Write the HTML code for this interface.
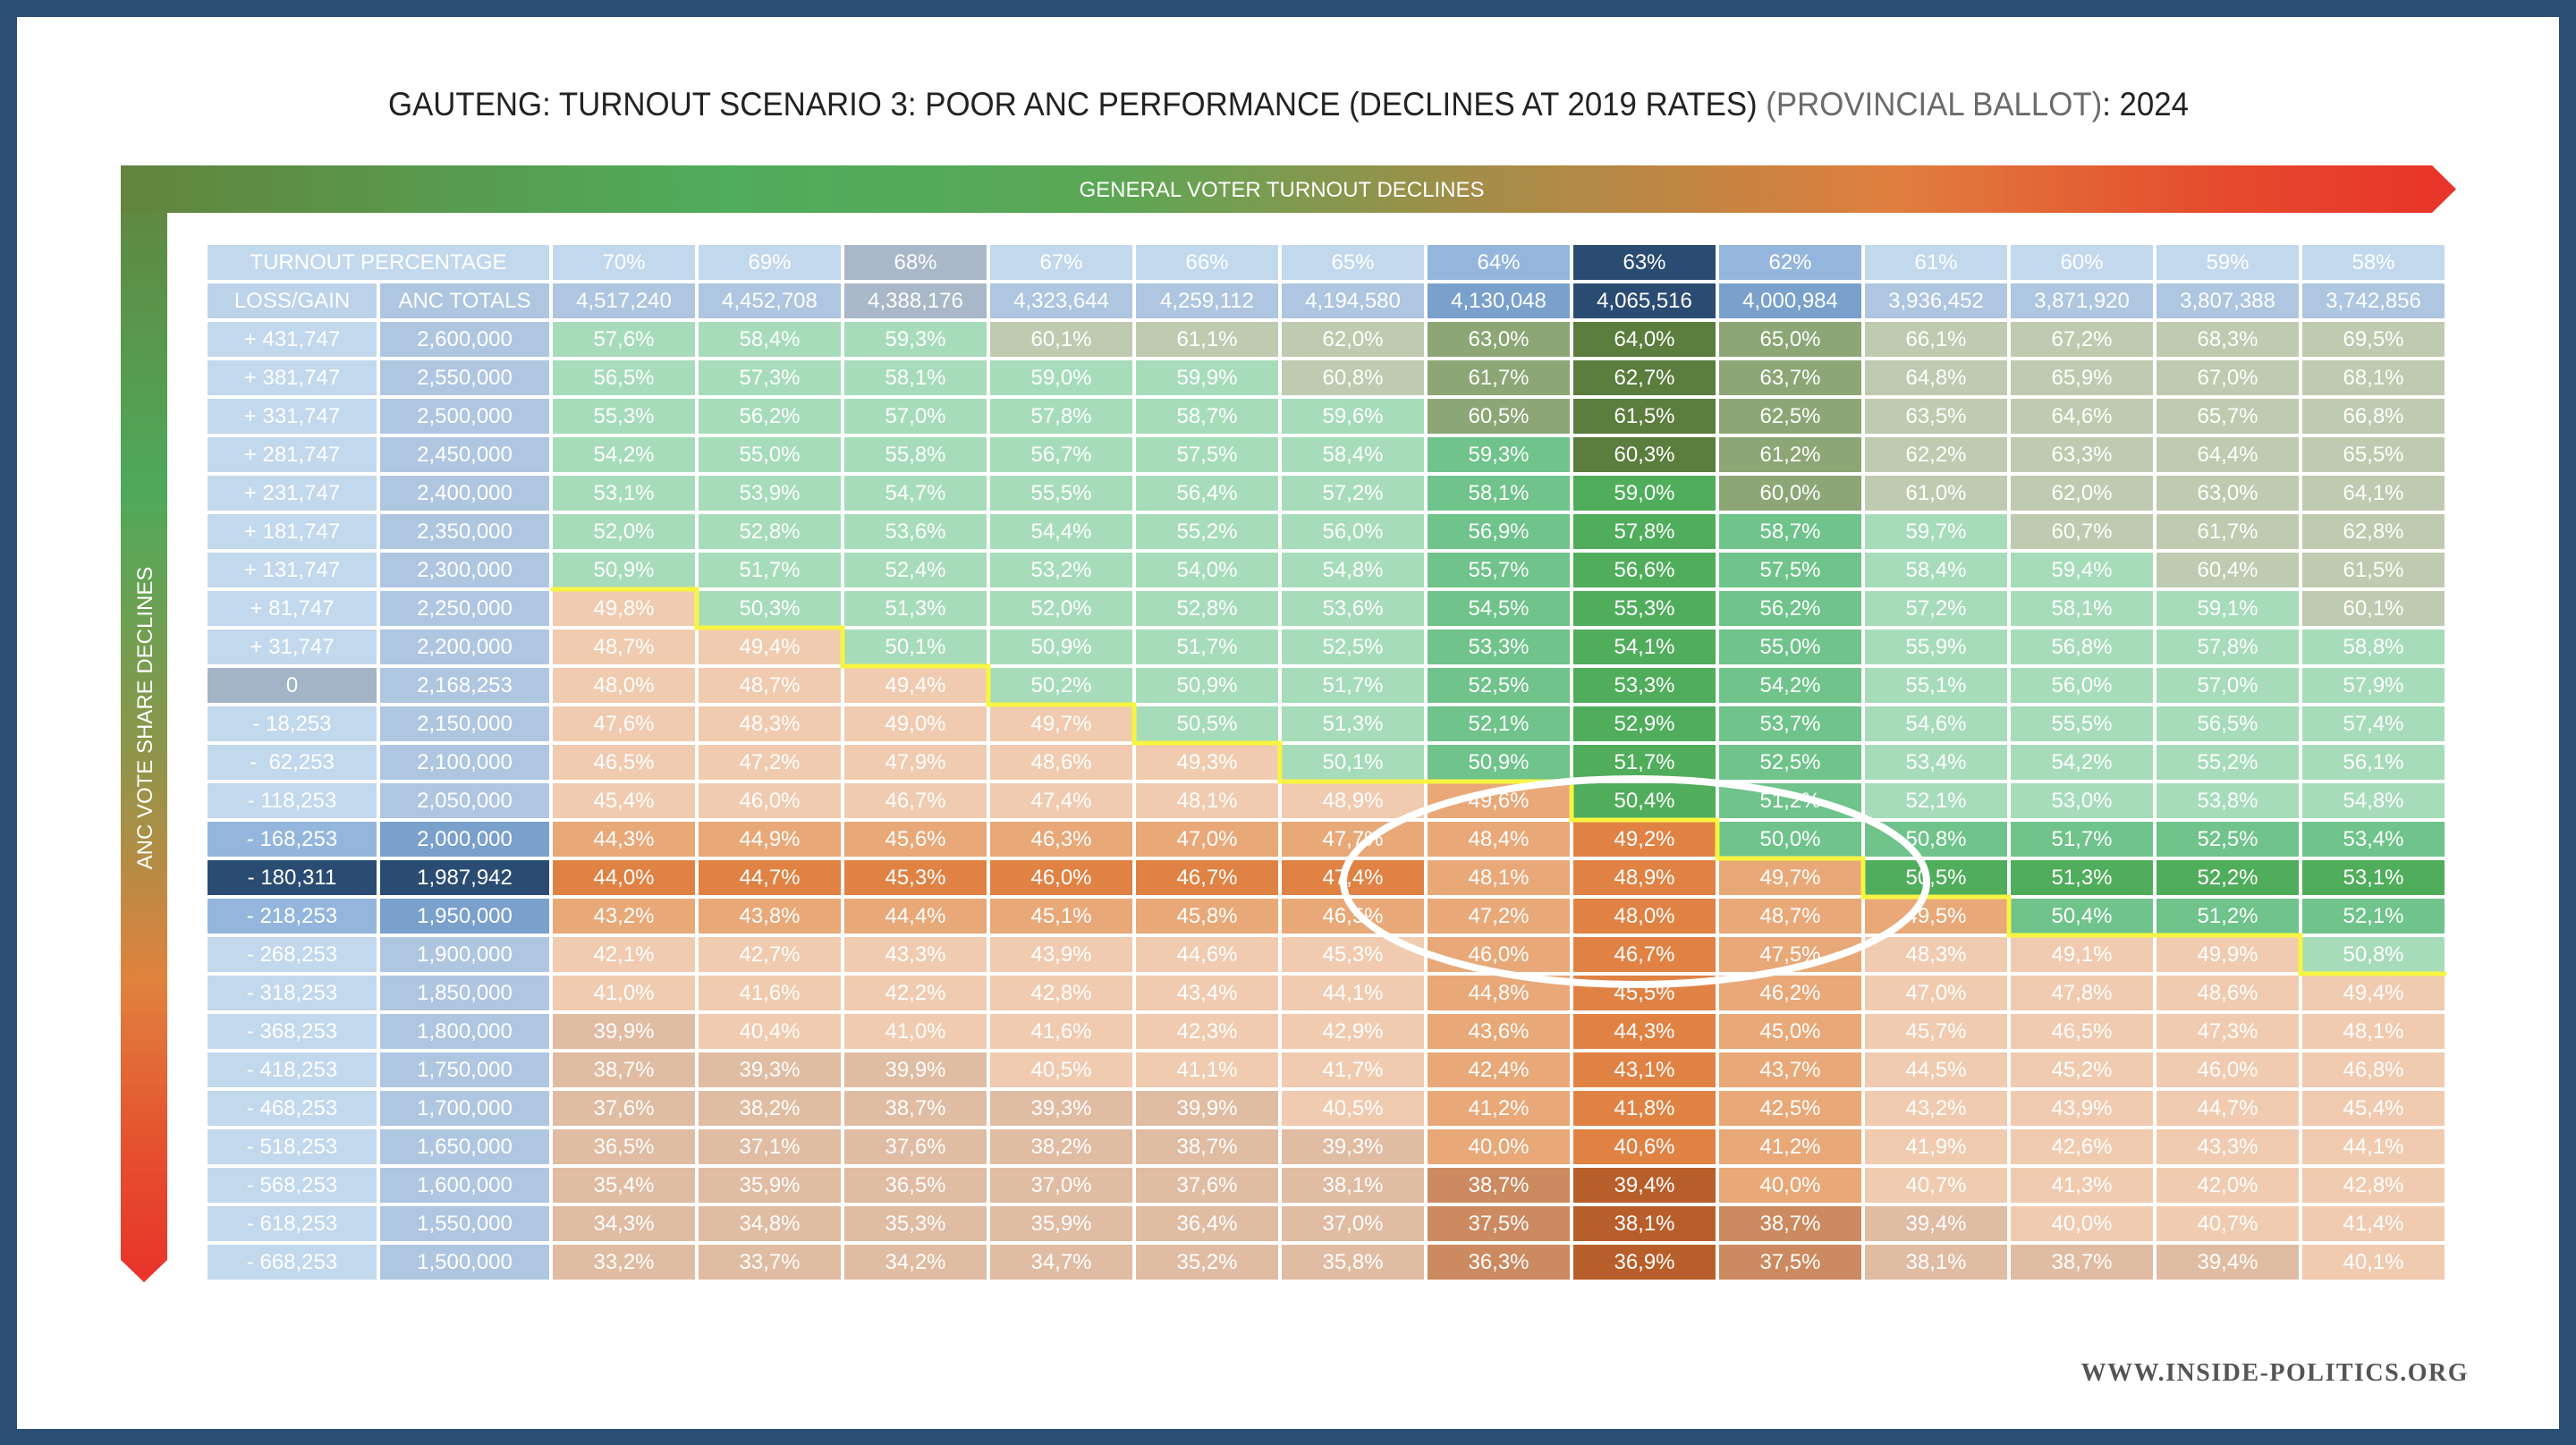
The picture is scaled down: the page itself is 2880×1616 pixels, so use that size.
<!DOCTYPE html>
<html><head><meta charset="utf-8">
<style>
html,body{margin:0;padding:0}
body{width:2880px;height:1616px;background:#2c4f76;position:relative;overflow:hidden;font-family:"Liberation Sans Narrow","Liberation Sans",sans-serif}
#inner{position:absolute;left:19px;top:19px;width:2842px;height:1579px;background:#fff}
svg.ov{position:absolute;left:0;top:0}
#grid{position:absolute;left:230px;top:272px;display:grid;grid-template-columns:193px 193px repeat(13,163px);grid-template-rows:repeat(27,43px)}
.r{display:contents}
.r>div{box-sizing:border-box;border:2px solid #fff;color:#fff;font-size:24px;display:flex;align-items:center;justify-content:center;white-space:nowrap}
.h1>div{background:#c2d8ec}
.h1>div.span{grid-column:span 2}
.h2>div{background:#aec6e0}
.h2>div:nth-child(1){background:#bcd3ea}
.h1>div:nth-child(4),.h2>div:nth-child(5){background:#a8b8c8}
.h1>div:nth-child(8),.h1>div:nth-child(10){background:#94b6dc}
.h2>div:nth-child(9),.h2>div:nth-child(11){background:#7aa0cc}
.h1>div:nth-child(9),.h2>div:nth-child(10){background:#2b4c72}
.d>div:nth-child(1){background:#c2d8ec}
.d>div:nth-child(2){background:#afc6e0}
.d.z>div:nth-child(1){background:#a3b4c6}
.d.md>div:nth-child(1){background:#94b6dc}
.d.md>div:nth-child(2){background:#7aa0cc}
.d.dk>div:nth-child(1),.d.dk>div:nth-child(2){background:#2b4c72}
.G{background:#a7dcbb}.O{background:#bfcbb0}.R{background:#f0cbb0}.T{background:#e0bca3}
.md .G,.d>div:nth-child(9).G,.d>div:nth-child(11).G{background:#6fc38b}
.md .O,.d>div:nth-child(9).O,.d>div:nth-child(11).O{background:#8ca676}
.md .R,.d>div:nth-child(9).R,.d>div:nth-child(11).R{background:#e8a878}
.md .T,.d>div:nth-child(9).T,.d>div:nth-child(11).T{background:#cc8a60}
.dk .G,.d>div:nth-child(10).G{background:#50ad5c}
.dk .O,.d>div:nth-child(10).O{background:#5b7d3d}
.dk .R,.d>div:nth-child(10).R{background:#e08244}
.dk .T,.d>div:nth-child(10).T{background:#b85e2a}
#foot{position:absolute;right:120px;top:1520px;font-family:"Liberation Serif",serif;font-size:28px;color:#555;letter-spacing:1.5px;font-weight:bold}
</style></head><body>
<div id="inner"></div>
<svg class="ov" width="2880" height="1616" xmlns="http://www.w3.org/2000/svg">
<defs>
<linearGradient id="gh" x1="135" y1="0" x2="2746" y2="0" gradientUnits="userSpaceOnUse">
<stop offset="0" stop-color="#62843e"/><stop offset="0.26" stop-color="#4fad5b"/><stop offset="0.42" stop-color="#5aa756"/><stop offset="0.58" stop-color="#a38d48"/><stop offset="0.76" stop-color="#e07e3e"/><stop offset="0.9" stop-color="#e54b2d"/><stop offset="1" stop-color="#e8332a"/>
</linearGradient>
<linearGradient id="gv" x1="0" y1="185" x2="0" y2="1434" gradientUnits="userSpaceOnUse">
<stop offset="0" stop-color="#62843e"/><stop offset="0.29" stop-color="#4fa95a"/><stop offset="0.53" stop-color="#8e954a"/><stop offset="0.73" stop-color="#e0823e"/><stop offset="0.88" stop-color="#e5502e"/><stop offset="1" stop-color="#e8332a"/>
</linearGradient>
</defs>
<polygon points="135,185 187,185 187,1409 161,1434 135,1409" fill="url(#gv)"/>
<polygon points="135,185 2719,185 2746,211.5 2719,238 135,238" fill="url(#gh)"/>
<text x="1433" y="220" fill="#fff" font-family="Liberation Sans Narrow, Liberation Sans, sans-serif" font-size="24" text-anchor="middle">GENERAL VOTER TURNOUT DECLINES</text>
<text transform="translate(170,803) rotate(-90)" fill="#fff" font-family="Liberation Sans, sans-serif" font-size="24" text-anchor="middle">ANC VOTE SHARE DECLINES</text>
<text x="434" y="129" font-family="Liberation Sans Narrow, Liberation Sans, sans-serif" font-size="37" fill="#222" textLength="2013" lengthAdjust="spacingAndGlyphs">GAUTENG: TURNOUT SCENARIO 3: POOR ANC PERFORMANCE (DECLINES AT 2019 RATES) <tspan fill="#6b6b6b">(PROVINCIAL BALLOT)</tspan>: 2024</text>
</svg>
<div id="grid">
<div class="r h1"><div class="span">TURNOUT PERCENTAGE</div><div>70%</div><div>69%</div><div>68%</div><div>67%</div><div>66%</div><div>65%</div><div>64%</div><div>63%</div><div>62%</div><div>61%</div><div>60%</div><div>59%</div><div>58%</div></div>
<div class="r h2"><div>LOSS/GAIN</div><div>ANC TOTALS</div><div>4,517,240</div><div>4,452,708</div><div>4,388,176</div><div>4,323,644</div><div>4,259,112</div><div>4,194,580</div><div>4,130,048</div><div>4,065,516</div><div>4,000,984</div><div>3,936,452</div><div>3,871,920</div><div>3,807,388</div><div>3,742,856</div></div>
<div class="r d"><div>+ 431,747</div><div>2,600,000</div><div class="G">57,6%</div><div class="G">58,4%</div><div class="G">59,3%</div><div class="O">60,1%</div><div class="O">61,1%</div><div class="O">62,0%</div><div class="O">63,0%</div><div class="O">64,0%</div><div class="O">65,0%</div><div class="O">66,1%</div><div class="O">67,2%</div><div class="O">68,3%</div><div class="O">69,5%</div></div>
<div class="r d"><div>+ 381,747</div><div>2,550,000</div><div class="G">56,5%</div><div class="G">57,3%</div><div class="G">58,1%</div><div class="G">59,0%</div><div class="G">59,9%</div><div class="O">60,8%</div><div class="O">61,7%</div><div class="O">62,7%</div><div class="O">63,7%</div><div class="O">64,8%</div><div class="O">65,9%</div><div class="O">67,0%</div><div class="O">68,1%</div></div>
<div class="r d"><div>+ 331,747</div><div>2,500,000</div><div class="G">55,3%</div><div class="G">56,2%</div><div class="G">57,0%</div><div class="G">57,8%</div><div class="G">58,7%</div><div class="G">59,6%</div><div class="O">60,5%</div><div class="O">61,5%</div><div class="O">62,5%</div><div class="O">63,5%</div><div class="O">64,6%</div><div class="O">65,7%</div><div class="O">66,8%</div></div>
<div class="r d"><div>+ 281,747</div><div>2,450,000</div><div class="G">54,2%</div><div class="G">55,0%</div><div class="G">55,8%</div><div class="G">56,7%</div><div class="G">57,5%</div><div class="G">58,4%</div><div class="G">59,3%</div><div class="O">60,3%</div><div class="O">61,2%</div><div class="O">62,2%</div><div class="O">63,3%</div><div class="O">64,4%</div><div class="O">65,5%</div></div>
<div class="r d"><div>+ 231,747</div><div>2,400,000</div><div class="G">53,1%</div><div class="G">53,9%</div><div class="G">54,7%</div><div class="G">55,5%</div><div class="G">56,4%</div><div class="G">57,2%</div><div class="G">58,1%</div><div class="G">59,0%</div><div class="O">60,0%</div><div class="O">61,0%</div><div class="O">62,0%</div><div class="O">63,0%</div><div class="O">64,1%</div></div>
<div class="r d"><div>+ 181,747</div><div>2,350,000</div><div class="G">52,0%</div><div class="G">52,8%</div><div class="G">53,6%</div><div class="G">54,4%</div><div class="G">55,2%</div><div class="G">56,0%</div><div class="G">56,9%</div><div class="G">57,8%</div><div class="G">58,7%</div><div class="G">59,7%</div><div class="O">60,7%</div><div class="O">61,7%</div><div class="O">62,8%</div></div>
<div class="r d"><div>+ 131,747</div><div>2,300,000</div><div class="G">50,9%</div><div class="G">51,7%</div><div class="G">52,4%</div><div class="G">53,2%</div><div class="G">54,0%</div><div class="G">54,8%</div><div class="G">55,7%</div><div class="G">56,6%</div><div class="G">57,5%</div><div class="G">58,4%</div><div class="G">59,4%</div><div class="O">60,4%</div><div class="O">61,5%</div></div>
<div class="r d"><div>+ 81,747</div><div>2,250,000</div><div class="R">49,8%</div><div class="G">50,3%</div><div class="G">51,3%</div><div class="G">52,0%</div><div class="G">52,8%</div><div class="G">53,6%</div><div class="G">54,5%</div><div class="G">55,3%</div><div class="G">56,2%</div><div class="G">57,2%</div><div class="G">58,1%</div><div class="G">59,1%</div><div class="O">60,1%</div></div>
<div class="r d"><div>+ 31,747</div><div>2,200,000</div><div class="R">48,7%</div><div class="R">49,4%</div><div class="G">50,1%</div><div class="G">50,9%</div><div class="G">51,7%</div><div class="G">52,5%</div><div class="G">53,3%</div><div class="G">54,1%</div><div class="G">55,0%</div><div class="G">55,9%</div><div class="G">56,8%</div><div class="G">57,8%</div><div class="G">58,8%</div></div>
<div class="r d z"><div>0</div><div>2,168,253</div><div class="R">48,0%</div><div class="R">48,7%</div><div class="R">49,4%</div><div class="G">50,2%</div><div class="G">50,9%</div><div class="G">51,7%</div><div class="G">52,5%</div><div class="G">53,3%</div><div class="G">54,2%</div><div class="G">55,1%</div><div class="G">56,0%</div><div class="G">57,0%</div><div class="G">57,9%</div></div>
<div class="r d"><div>- 18,253</div><div>2,150,000</div><div class="R">47,6%</div><div class="R">48,3%</div><div class="R">49,0%</div><div class="R">49,7%</div><div class="G">50,5%</div><div class="G">51,3%</div><div class="G">52,1%</div><div class="G">52,9%</div><div class="G">53,7%</div><div class="G">54,6%</div><div class="G">55,5%</div><div class="G">56,5%</div><div class="G">57,4%</div></div>
<div class="r d"><div>-&nbsp; 62,253</div><div>2,100,000</div><div class="R">46,5%</div><div class="R">47,2%</div><div class="R">47,9%</div><div class="R">48,6%</div><div class="R">49,3%</div><div class="G">50,1%</div><div class="G">50,9%</div><div class="G">51,7%</div><div class="G">52,5%</div><div class="G">53,4%</div><div class="G">54,2%</div><div class="G">55,2%</div><div class="G">56,1%</div></div>
<div class="r d"><div>- 118,253</div><div>2,050,000</div><div class="R">45,4%</div><div class="R">46,0%</div><div class="R">46,7%</div><div class="R">47,4%</div><div class="R">48,1%</div><div class="R">48,9%</div><div class="R">49,6%</div><div class="G">50,4%</div><div class="G">51,2%</div><div class="G">52,1%</div><div class="G">53,0%</div><div class="G">53,8%</div><div class="G">54,8%</div></div>
<div class="r d md"><div>- 168,253</div><div>2,000,000</div><div class="R">44,3%</div><div class="R">44,9%</div><div class="R">45,6%</div><div class="R">46,3%</div><div class="R">47,0%</div><div class="R">47,7%</div><div class="R">48,4%</div><div class="R">49,2%</div><div class="G">50,0%</div><div class="G">50,8%</div><div class="G">51,7%</div><div class="G">52,5%</div><div class="G">53,4%</div></div>
<div class="r d dk"><div>- 180,311</div><div>1,987,942</div><div class="R">44,0%</div><div class="R">44,7%</div><div class="R">45,3%</div><div class="R">46,0%</div><div class="R">46,7%</div><div class="R">47,4%</div><div class="R">48,1%</div><div class="R">48,9%</div><div class="R">49,7%</div><div class="G">50,5%</div><div class="G">51,3%</div><div class="G">52,2%</div><div class="G">53,1%</div></div>
<div class="r d md"><div>- 218,253</div><div>1,950,000</div><div class="R">43,2%</div><div class="R">43,8%</div><div class="R">44,4%</div><div class="R">45,1%</div><div class="R">45,8%</div><div class="R">46,5%</div><div class="R">47,2%</div><div class="R">48,0%</div><div class="R">48,7%</div><div class="R">49,5%</div><div class="G">50,4%</div><div class="G">51,2%</div><div class="G">52,1%</div></div>
<div class="r d"><div>- 268,253</div><div>1,900,000</div><div class="R">42,1%</div><div class="R">42,7%</div><div class="R">43,3%</div><div class="R">43,9%</div><div class="R">44,6%</div><div class="R">45,3%</div><div class="R">46,0%</div><div class="R">46,7%</div><div class="R">47,5%</div><div class="R">48,3%</div><div class="R">49,1%</div><div class="R">49,9%</div><div class="G">50,8%</div></div>
<div class="r d"><div>- 318,253</div><div>1,850,000</div><div class="R">41,0%</div><div class="R">41,6%</div><div class="R">42,2%</div><div class="R">42,8%</div><div class="R">43,4%</div><div class="R">44,1%</div><div class="R">44,8%</div><div class="R">45,5%</div><div class="R">46,2%</div><div class="R">47,0%</div><div class="R">47,8%</div><div class="R">48,6%</div><div class="R">49,4%</div></div>
<div class="r d"><div>- 368,253</div><div>1,800,000</div><div class="T">39,9%</div><div class="R">40,4%</div><div class="R">41,0%</div><div class="R">41,6%</div><div class="R">42,3%</div><div class="R">42,9%</div><div class="R">43,6%</div><div class="R">44,3%</div><div class="R">45,0%</div><div class="R">45,7%</div><div class="R">46,5%</div><div class="R">47,3%</div><div class="R">48,1%</div></div>
<div class="r d"><div>- 418,253</div><div>1,750,000</div><div class="T">38,7%</div><div class="T">39,3%</div><div class="T">39,9%</div><div class="R">40,5%</div><div class="R">41,1%</div><div class="R">41,7%</div><div class="R">42,4%</div><div class="R">43,1%</div><div class="R">43,7%</div><div class="R">44,5%</div><div class="R">45,2%</div><div class="R">46,0%</div><div class="R">46,8%</div></div>
<div class="r d"><div>- 468,253</div><div>1,700,000</div><div class="T">37,6%</div><div class="T">38,2%</div><div class="T">38,7%</div><div class="T">39,3%</div><div class="T">39,9%</div><div class="R">40,5%</div><div class="R">41,2%</div><div class="R">41,8%</div><div class="R">42,5%</div><div class="R">43,2%</div><div class="R">43,9%</div><div class="R">44,7%</div><div class="R">45,4%</div></div>
<div class="r d"><div>- 518,253</div><div>1,650,000</div><div class="T">36,5%</div><div class="T">37,1%</div><div class="T">37,6%</div><div class="T">38,2%</div><div class="T">38,7%</div><div class="T">39,3%</div><div class="R">40,0%</div><div class="R">40,6%</div><div class="R">41,2%</div><div class="R">41,9%</div><div class="R">42,6%</div><div class="R">43,3%</div><div class="R">44,1%</div></div>
<div class="r d"><div>- 568,253</div><div>1,600,000</div><div class="T">35,4%</div><div class="T">35,9%</div><div class="T">36,5%</div><div class="T">37,0%</div><div class="T">37,6%</div><div class="T">38,1%</div><div class="T">38,7%</div><div class="T">39,4%</div><div class="R">40,0%</div><div class="R">40,7%</div><div class="R">41,3%</div><div class="R">42,0%</div><div class="R">42,8%</div></div>
<div class="r d"><div>- 618,253</div><div>1,550,000</div><div class="T">34,3%</div><div class="T">34,8%</div><div class="T">35,3%</div><div class="T">35,9%</div><div class="T">36,4%</div><div class="T">37,0%</div><div class="T">37,5%</div><div class="T">38,1%</div><div class="T">38,7%</div><div class="T">39,4%</div><div class="R">40,0%</div><div class="R">40,7%</div><div class="R">41,4%</div></div>
<div class="r d"><div>- 668,253</div><div>1,500,000</div><div class="T">33,2%</div><div class="T">33,7%</div><div class="T">34,2%</div><div class="T">34,7%</div><div class="T">35,2%</div><div class="T">35,8%</div><div class="T">36,3%</div><div class="T">36,9%</div><div class="T">37,5%</div><div class="T">38,1%</div><div class="T">38,7%</div><div class="T">39,4%</div><div class="R">40,1%</div></div>
</div>
<svg class="ov" width="2880" height="1616" xmlns="http://www.w3.org/2000/svg">
<polyline points="616,659 779,659 779,702 942,702 942,745 1105,745 1105,788 1268,788 1268,831 1431,831 1431,874 1757,874 1757,917 1920,917 1920,960 2083,960 2083,1003 2246,1003 2246,1046 2572,1046 2572,1089 2735,1089" fill="none" stroke="#f7f542" stroke-width="5"/>
<ellipse cx="1828" cy="986" rx="326" ry="115" fill="none" stroke="#fff" stroke-width="8"/>
</svg>
<div id="foot">WWW.INSIDE-POLITICS.ORG</div>
</body></html>
